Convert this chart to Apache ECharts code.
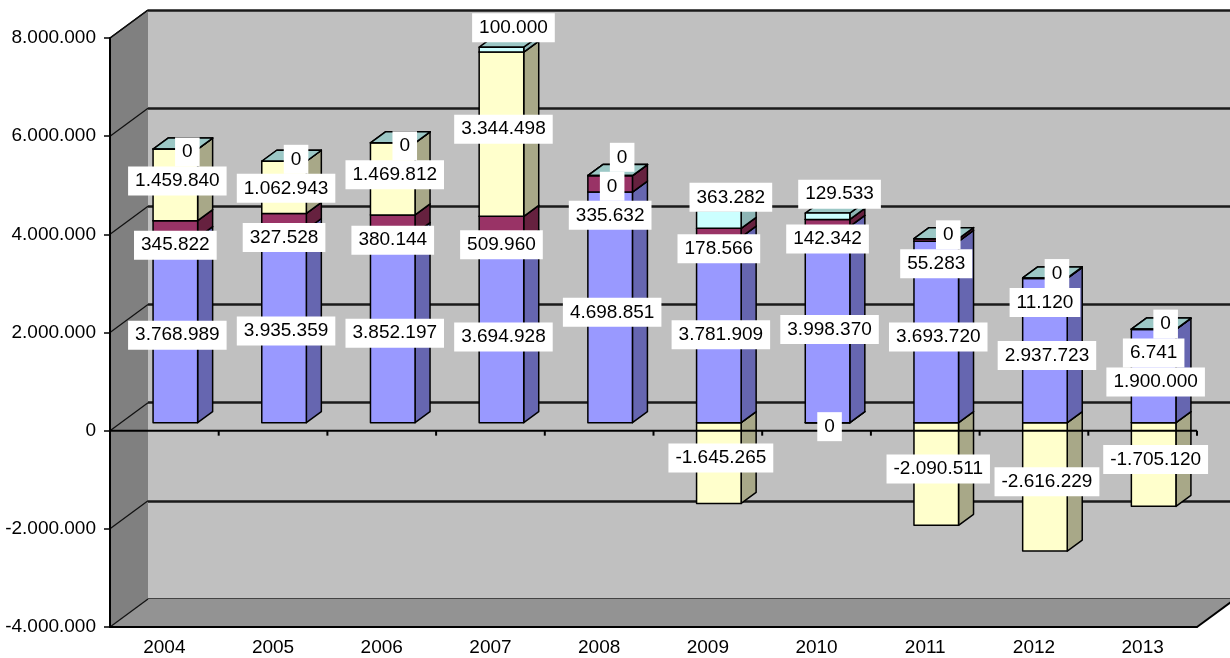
<!DOCTYPE html>
<html>
<head>
<meta charset="utf-8">
<script src="https://cdn.jsdelivr.net/npm/echarts@6/dist/echarts.min.js"></script>
<style>
  html, body { margin: 0; padding: 0; background: #fff; }
  #main { width: 1230px; height: 658px; }
</style>
</head>
<body>
<div id="main"></div>
<script>
// values
var years = ['2004', '2005', '2006', '2007', '2008', '2009', '2010', '2011', '2012', '2013'];
var blueValues = [3768989, 3935359, 3852197, 3694928, 4698851, 3781909, 3998370, 3693720, 2937723, 1900000];
var maroonValues = [345822, 327528, 380144, 509960, 335632, 178566, 142342, 55283, 11120, 6741];
// 2010 is a zero that sits under the axis in the original, so it's kept as -0
var yellowValues = [1459840, 1062943, 1469812, 3344498, 0, -1645265, -0, -2090511, -2616229, -1705120];
var cyanValues = [0, 0, 0, 100000, 0, 363282, 129533, 0, 0, 0];
var yTicks = [-4000000, -2000000, 0, 2000000, 4000000, 6000000, 8000000];

var stackList = [blueValues, maroonValues, yellowValues, cyanValues];
// face colours + where each series puts its label (px nudge)
var seriesStyle = [
  { front: '#9999FF', side: '#6666B0', top: '#7B7BD6', dx: 2, dy: 5 },
  { front: '#993366', side: '#66213F', top: '#7A2952', dx: 0, dy: 16 },
  { front: '#FFFFCC', side: '#A8A888', top: '#CCCCA3', dx: 2, dy: -5 },
  { front: '#CCFFFF', side: '#8DB5B5', top: '#9CC8C6', dx: 12, dy: -22 }
];

// 3d look: wall depth, bar front plane and bar depth (px)
var WALL = { x: 38, y: -28 };
var FRONT = { x: 11, y: -8 };
var DEPTH = { x: 15, y: -11 };
var FONT = '19px "Liberation Sans", Arial, sans-serif';

function isNeg (v) {
  return v < 0 || Object.is(v, -0);
}

function fmt (v) {
  var s = String(Math.round(Math.abs(v))).replace(/\B(?=(\d{3})+(?!\d))/g, '.');
  return (v < 0 ? '-' : '') + s;
}

function segments (i) {
  var pos = 0, neg = 0, out = [];
  stackList.forEach(function (arr, s) {
    var v = arr[i];
    if (isNeg(v)) {
      out.push({ s: s, lo: neg + v, hi: neg, v: v, neg: true });
      neg += v;
    } else {
      out.push({ s: s, lo: pos, hi: pos + v, v: v, neg: false });
      pos += v;
    }
  });
  return out;
}

var chart = echarts.init(document.getElementById('main'));

function renderWalls (params, api) {
  var cs = params.coordSys;
  var y = api.coord([0, api.value(1)])[1];
  var x0 = cs.x, bottom = cs.y + cs.height, right = cs.x + cs.width;
  var children = [];
  if (params.dataIndex === 0) {
    children.push({
      type: 'polygon',
      shape: { points: [[x0, cs.y], [x0 + WALL.x, cs.y + WALL.y], [x0 + WALL.x, bottom + WALL.y], [x0, bottom]] },
      style: { fill: '#808080' }
    });
    children.push({
      type: 'polygon',
      shape: { points: [[x0, bottom], [right, bottom], [right + WALL.x, bottom + WALL.y], [x0 + WALL.x, bottom + WALL.y]] },
      style: { fill: '#939393' }
    });
    children.push({
      type: 'line',
      shape: { x1: right, y1: bottom, x2: right + WALL.x, y2: bottom + WALL.y },
      style: { stroke: '#000', lineWidth: 2 }
    });
    children.push({
      type: 'line',
      shape: { x1: x0, y1: cs.y, x2: x0 + WALL.x, y2: cs.y + WALL.y },
      style: { stroke: '#000', lineWidth: 1.5 }
    });
  }
  children.push({
    type: 'line',
    shape: { x1: x0, y1: y, x2: x0 + WALL.x, y2: y + WALL.y },
    style: { stroke: '#111', lineWidth: 1.3 }
  });
  return { type: 'group', children: children };
}

function renderBars (params, api) {
  var i = api.value(0);
  var bw = api.size([1, 0])[0] * 0.41;
  var segs = segments(i).sort(function (a, b) { return a.hi - b.hi || a.s - b.s; });
  var children = [];
  segs.forEach(function (g) {
    var pHi = api.coord([i, g.hi]);
    var pLo = api.coord([i, g.lo]);
    var cx = pHi[0] + FRONT.x;
    var yT = pHi[1] + FRONT.y, yB = pLo[1] + FRONT.y;
    var l = cx - bw / 2, r = cx + bw / 2;
    var c = seriesStyle[g.s];
    var edge = { stroke: '#000', lineWidth: 1.5, lineJoin: 'round' };
    children.push({
      type: 'polygon',
      shape: { points: [[r, yT], [r + DEPTH.x, yT + DEPTH.y], [r + DEPTH.x, yB + DEPTH.y], [r, yB]] },
      style: Object.assign({ fill: c.side }, edge)
    });
    children.push({
      type: 'polygon',
      shape: { points: [[l, yT], [r, yT], [r + DEPTH.x, yT + DEPTH.y], [l + DEPTH.x, yT + DEPTH.y]] },
      style: Object.assign({ fill: c.top }, edge)
    });
    children.push({
      type: 'polygon',
      shape: { points: [[l, yT], [r, yT], [r, yB], [l, yB]] },
      style: Object.assign({ fill: c.front }, edge)
    });
  });
  return { type: 'group', children: children };
}

function renderZeroLine (params, api) {
  var cs = params.coordSys;
  var y0 = api.coord([0, 0])[1];
  var children = [{
    type: 'line',
    shape: { x1: cs.x, y1: y0, x2: cs.x + cs.width, y2: y0 },
    style: { stroke: '#000', lineWidth: 2 }
  }];
  for (var k = 1; k <= years.length; k++) {
    var x = cs.x + k * cs.width / years.length;
    children.push({
      type: 'line',
      shape: { x1: x, y1: y0, x2: x, y2: y0 + 5 },
      style: { stroke: '#000', lineWidth: 2 }
    });
  }
  return { type: 'group', children: children };
}

function renderLabels (params, api) {
  var i = api.value(0);
  var gap = 29;
  var segs = segments(i);
  var items = segs.map(function (g) {
    var p = api.coord([i, (g.lo + g.hi) / 2]);
    var st = seriesStyle[g.s];
    var dy = g.v === 0 ? 4 : st.dy;
    return { s: g.s, neg: g.neg, text: fmt(g.v), x: p[0] + FRONT.x + st.dx, want: p[1] + FRONT.y + dy };
  });
  // top to bottom in stack order: positives from the top, then negatives downward
  var order = items.filter(function (it) { return !it.neg; }).reverse()
    .concat(items.filter(function (it) { return it.neg; }));
  function place (c) {
    var mean = 0;
    c.items.forEach(function (it) { mean += it.want; });
    mean /= c.items.length;
    c.items.forEach(function (it, k) { it.y = mean - (c.items.length - 1) * gap / 2 + k * gap; });
  }
  // push overlapping labels apart around their mean
  var clusters = [];
  order.forEach(function (it) {
    clusters.push({ items: [it] });
    while (clusters.length > 1) {
      var last = clusters[clusters.length - 1], prev = clusters[clusters.length - 2];
      place(prev); place(last);
      var pb = prev.items[prev.items.length - 1].y, lt = last.items[0].y;
      if (lt - pb >= gap) break;
      prev.items = prev.items.concat(last.items);
      clusters.pop();
    }
  });
  clusters.forEach(place);
  return {
    type: 'group',
    children: order.map(function (it) {
      return {
        type: 'text',
        x: it.x,
        y: it.y,
        style: {
          text: it.text, fill: '#000', font: FONT,
          align: 'center', verticalAlign: 'middle',
          backgroundColor: '#fff', padding: [5, 7]
        }
      };
    })
  };
}

chart.setOption({
  animation: false,
  backgroundColor: '#fff',
  grid: [
    { left: 110, right: 33, top: 38, bottom: 31 },
    { left: 110 + WALL.x, right: 33 - WALL.x, top: 38 + WALL.y, bottom: 31 - WALL.y, show: true, backgroundColor: '#C0C0C0', borderWidth: 0 }
  ],
  xAxis: [
    {
      type: 'category', gridIndex: 0, data: years,
      axisLine: { onZero: false, lineStyle: { color: '#000', width: 2 } },
      axisTick: { show: false },
      axisLabel: { color: '#000', fontSize: 19, fontFamily: '"Liberation Sans", Arial', margin: 11 },
      z: 5
    },
    { type: 'category', gridIndex: 1, data: years, show: false }
  ],
  yAxis: [
    {
      type: 'value', gridIndex: 0, min: -4000000, max: 8000000, interval: 2000000,
      axisLine: { show: true, lineStyle: { color: '#000', width: 2 } },
      axisTick: { show: true, length: 6, lineStyle: { color: '#000', width: 1.5 } },
      splitLine: { show: false },
      axisLabel: { color: '#000', fontSize: 19, fontFamily: '"Liberation Sans", Arial', margin: 14, formatter: fmt },
      z: 5
    },
    {
      type: 'value', gridIndex: 1, min: -4000000, max: 8000000, interval: 2000000,
      axisLine: { show: false }, axisTick: { show: false }, axisLabel: { show: false },
      splitLine: { show: true, lineStyle: { color: '#1A1A1A', width: 2.5 } }
    }
  ],
  series: [
    {
      type: 'custom', name: 'walls', xAxisIndex: 0, yAxisIndex: 0, z: 1, silent: true,
      renderItem: renderWalls,
      data: yTicks.map(function (v) { return [0, v]; })
    },
    {
      type: 'custom', name: 'bars', xAxisIndex: 0, yAxisIndex: 0, z: 3, silent: true,
      renderItem: renderBars,
      data: years.map(function (y, i) { return [i]; })
    },
    {
      type: 'custom', name: 'zero', xAxisIndex: 0, yAxisIndex: 0, z: 4, silent: true,
      renderItem: renderZeroLine,
      data: [[0, 0]]
    },
    {
      type: 'custom', name: 'labels', xAxisIndex: 0, yAxisIndex: 0, z: 6, silent: true,
      renderItem: renderLabels,
      data: years.map(function (y, i) { return [i]; })
    }
  ]
});
</script>
</body>
</html>
